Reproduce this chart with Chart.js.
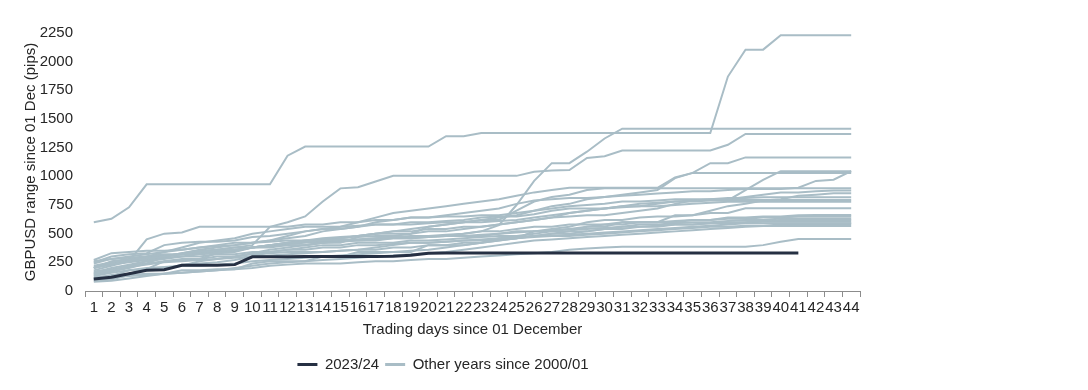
<!DOCTYPE html>
<html>
<head>
<meta charset="utf-8">
<script src="https://cdn.jsdelivr.net/npm/chart.js@4"></script>
<style>
  html, body { margin: 0; padding: 0; background: #ffffff; }
  #holder { position: relative; width: 886px; height: 390px; }
</style>
</head>
<body>
<div id="holder"><canvas id="rangeChart"></canvas></div>
<script>
const FONT = "'Liberation Sans', Arial, sans-serif";
const TEXT_COLOR = '#262626';
const DARK = '#263043';
const GREY = '#a9bdc6';

const days = ['1','2','3','4','5','6','7','8','9','10','11','12','13','14','15','16','17','18','19','20','21','22',
              '23','24','25','26','27','28','29','30','31','32','33','34','35','36','37','38','39','40','41','42','43','44'];
const yTicks = [0, 250, 500, 750, 1000, 1250, 1500, 1750, 2000, 2250];

// current season, only 41 trading days so far
const range2023 = [105,120,150,180,185,225,225,225,230,298, 298,298,300,300,300,300,300,302,312,330,
                   332,332,332,332,332,332,332,332,332,332, 332,332,332,332,332,332,332,332,332,332, 332];

// other seasons since 2000/01 (pips)
const otherA = [600,630,730,930,930,930,930,930,930,930, 930,1180,1260,1260,1260,1260,1260,1260,1260,1260,
                1350,1350,1378,1378,1378,1378,1378,1378,1378,1378, 1378,1378,1378,1378,1378,1378,1870,2105,2105,2230, 2230,2230,2230,2230];
const otherB = [200,230,260,280,300,320,340,350,360,380, 400,420,430,440,450,450,460,470,480,480,
                490,500,520,575,750,960,1115,1115,1215,1330, 1415,1415,1415,1415,1415,1415,1415,1415,1415,1415, 1415,1415,1415,1415];
const otherC = [220,250,270,290,300,330,350,360,380,400, 560,600,650,780,895,905,955,1004,1004,1004,
                1004,1004,1004,1004,1004,1040,1050,1055,1160,1175, 1225,1225,1225,1225,1225,1225,1275,1370,1370,1370, 1370,1370,1370,1370];
const otherD = [150,180,220,260,300,330,360,380,400,420, 440,480,520,540,560,600,640,680,700,720,
                740,760,780,800,830,860,880,900,900,900, 900,900,900,990,1030,1115,1115,1165,1165,1165, 1165,1165,1165,1165];
const otherE = [250,300,320,330,400,420,430,430,440,470, 480,500,520,540,540,560,580,580,600,600,
                610,620,640,650,650,670,700,720,720,720, 740,740,760,780,780,790,790,880,970,1045, 1045,1045,1045,1045];
const otherF = [180,220,260,300,340,360,380,400,420,420, 440,460,480,520,540,560,600,620,640,640,
                660,680,700,720,760,790,800,810,810,820, 830,840,850,860,870,870,880,890,890,890, 900,960,970,1045];
const otherG = [160,200,230,260,280,300,320,330,350,380, 400,420,440,460,470,480,500,520,540,560,
                580,600,620,640,660,700,740,760,800,820, 840,860,880,985,1030,1030,1030,1030,1030,1030, 1030,1030,1030,1030];
const otherH = [120,130,180,190,260,270,280,330,340,380, 380,400,400,420,420,470,480,480,500,560,
                580,600,620,620,700,780,820,840,880,896, 896,896,896,896,896,896,896,896,896,896, 896,896,896,896];
const otherI = [270,330,340,350,350,360,380,390,400,420, 430,440,440,450,460,480,500,520,520,540,
                540,560,560,580,600,620,640,650,660,660, 680,700,720,760,790,800,800,820,840,860, 860,870,876,876];
const otherJ = [100,120,150,190,200,220,260,280,300,330, 360,380,400,420,430,440,440,460,460,470,
                480,480,480,500,520,520,540,560,600,620, 620,640,650,650,660,700,740,760,790,800, 830,840,852,852];
const otherK = [200,240,260,450,500,510,560,560,560,560, 560,560,580,580,600,600,620,620,640,640,
                650,650,660,660,680,700,720,740,750,760, 780,780,790,800,800,800,810,810,817,817, 817,817,817,817];
const otherL = [140,170,200,240,300,320,330,340,350,380, 400,420,440,440,460,480,500,500,500,520,
                520,540,560,580,600,620,640,680,700,720, 740,760,770,780,790,794,794,794,794,794, 794,794,794,794];
const otherM = [240,280,300,320,340,380,420,440,460,500, 520,540,560,560,560,570,580,580,580,590,
                600,600,600,610,620,640,660,680,700,720, 730,740,740,750,760,770,779,779,779,779, 779,779,779,779];
const otherN = [90,100,140,150,150,180,180,190,190,240, 260,260,260,300,300,340,340,340,340,400,
                400,400,420,460,460,520,520,520,560,560, 600,600,600,660,660,680,680,721,721,721, 721,721,721,721];
const otherO = [110,140,150,180,190,230,240,250,270,300, 340,360,380,400,400,420,420,420,440,440,
                450,460,470,480,480,500,520,540,560,580, 580,600,600,600,620,620,640,640,650,650, 660,663,663,663];
const otherP = [260,280,290,300,320,320,340,360,380,380, 390,400,400,420,440,450,460,470,470,480,
                480,500,520,520,540,560,560,580,580,580, 600,600,600,610,620,620,630,630,640,640, 650,650,650,650];
const otherQ = [150,180,220,240,260,280,280,300,300,320, 330,340,340,340,350,360,360,380,380,400,
                400,420,420,440,460,480,500,520,520,540, 560,580,580,590,600,600,610,620,620,633, 633,633,633,633];
const otherR = [130,160,180,200,210,220,220,230,240,260, 270,280,290,300,310,320,330,340,350,360,
                380,400,420,440,460,480,500,500,520,540, 540,560,560,580,580,590,600,600,610,620, 620,620,620,620];
const otherS = [200,260,280,300,310,320,330,340,360,380, 400,410,420,430,440,440,450,460,460,470,
                480,480,490,500,510,520,530,540,540,550, 560,560,570,580,580,590,590,600,604,604, 604,604,604,604];
const otherT = [170,190,210,230,250,260,270,280,290,300, 310,320,330,340,350,360,380,400,420,420,
                430,440,450,460,470,480,480,490,500,510, 520,530,540,550,560,570,580,590,590,590, 590,590,590,590];
const otherU = [210,230,250,270,290,300,300,320,320,340, 340,360,360,380,380,400,400,410,420,420,
                430,440,440,450,460,470,480,480,490,500, 510,520,530,540,550,560,560,570,570,580, 584,584,584,584];
const otherV = [100,120,130,140,150,160,170,180,200,220, 240,250,260,270,280,290,300,310,320,330,
                340,360,380,400,420,440,450,460,470,480, 490,500,510,520,530,540,550,560,566,566, 566,566,566,566];
const otherW = [80,90,110,130,150,160,170,180,190,200, 220,230,240,240,240,250,260,260,270,280,
                280,290,300,310,320,330,340,360,370,380, 385,385,385,385,385,385,385,385,400,430, 453,453,453,453];

const otherYears = [otherA, otherB, otherC, otherD, otherE, otherF, otherG, otherH, otherI, otherJ, otherK, otherL,
                    otherM, otherN, otherO, otherP, otherQ, otherR, otherS, otherT, otherU, otherV, otherW];

function buildDatasets(){
    var sets = [{
        label: '2023/24',
        data: range2023,
        borderColor: DARK,
        backgroundColor: DARK,
        borderWidth: 3,
        pointRadius: 0,
        tension: 0
    }]
    for (var i = 0; i < otherYears.length; i++){
        sets.push({
            label: i == 0 ? 'Other years since 2000/01' : '',
            data: otherYears[i],
            borderColor: GREY,
            backgroundColor: GREY,
            borderWidth: 2,
            pointRadius: 0,
            tension: 0
        })
    }
    return sets
}

Chart.defaults.font.family = FONT;
Chart.defaults.font.size = 15;
Chart.defaults.color = TEXT_COLOR;

var ctx = document.getElementById('rangeChart').getContext('2d');
var chart = new Chart(ctx, {
    type: 'line',
    data: {
        labels: days,
        datasets: buildDatasets()
    },
    options: {
        responsive: true,
        maintainAspectRatio: false,
        animation: false,
        // left padding only there to centre the legend like the original
        layout: { padding: { top: 33, right: 26, bottom: 8, left: 26 } },
        scales: {
            x: {
                offset: true,
                grid: {
                    offset: true,
                    display: true,
                    drawOnChartArea: false,
                    drawTicks: true,
                    tickLength: 6,
                    color: '#8c8c8c'
                },
                border: { display: true, color: '#8c8c8c', width: 1 },
                ticks: { autoSkip: false, maxRotation: 0, minRotation: 0, padding: 2 },
                title: {
                    display: true,
                    text: 'Trading days since 01 December',
                    padding: { top: 2, bottom: 12 }
                },
                afterFit: function(scale){ scale.height = 60 }
            },
            y: {
                min: 0,
                max: 2250,
                afterBuildTicks: function(scale){ scale.ticks = yTicks.map(v => ({ value: v })) },
                grid: { display: false },
                border: { display: false },
                ticks: {
                    padding: 4,
                    callback: function(value){ return String(value) }
                },
                title: {
                    display: true,
                    text: 'GBPUSD range since 01 Dec (pips)',
                    padding: { top: -4, bottom: 2 }
                },
                afterFit: function(scale){ scale.width = 59 }
            }
        },
        plugins: {
            tooltip: { enabled: false },
            legend: {
                position: 'bottom',
                labels: {
                    boxWidth: 20,
                    boxHeight: 3,
                    padding: 6,
                    generateLabels: function(chart){
                        var items = Chart.defaults.plugins.legend.labels.generateLabels(chart)
                        return items.filter(it => it.datasetIndex < 2).map(it => { it.lineWidth = 0; return it })
                    }
                }
            }
        }
    }
});
</script>
</body>
</html>
